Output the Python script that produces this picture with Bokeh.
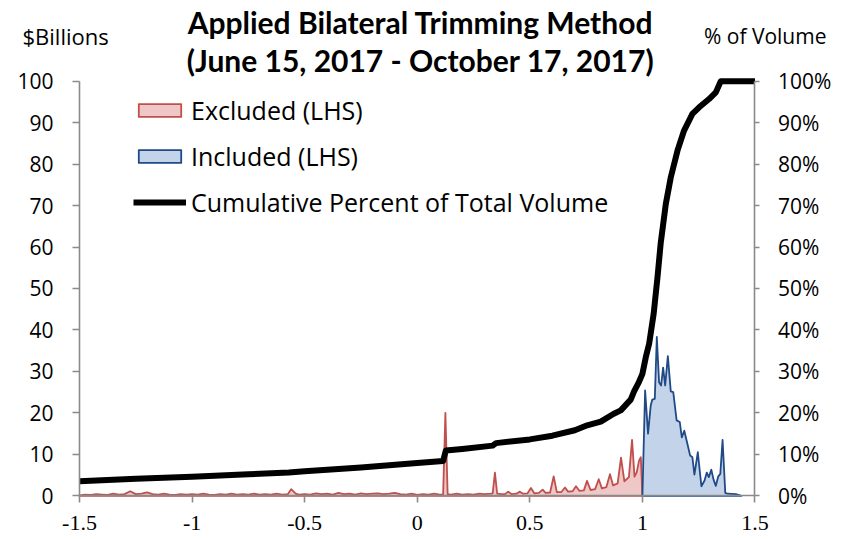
from bokeh.plotting import figure
from bokeh.models import (Range1d, LinearAxis, Legend, LegendItem, Label,
                          PrintfTickFormatter, FixedTicker, NumeralTickFormatter)
from bokeh.embed import file_html
from bokeh.resources import INLINE

# ---------------- data ----------------
excl_x = [-1.5, -1.475, -1.45, -1.425, -1.4, -1.375, -1.35, -1.325, -1.3, -1.275,
          -1.25, -1.225, -1.2, -1.175, -1.15, -1.125, -1.1, -1.075, -1.05, -1.025,
          -1.0, -0.975, -0.95, -0.925, -0.9, -0.875, -0.85, -0.825, -0.8, -0.775,
          -0.75, -0.725, -0.7, -0.675, -0.65, -0.625, -0.6, -0.575, -0.56, -0.54,
          -0.525, -0.5, -0.475, -0.45, -0.425, -0.4, -0.375, -0.35, -0.325, -0.3,
          -0.275, -0.25, -0.225, -0.2, -0.175, -0.15, -0.125, -0.1, -0.075, -0.05,
          -0.025, 0.0, 0.025, 0.05, 0.075, 0.1, 0.115, 0.125, 0.135, 0.15,
          0.175, 0.2, 0.225, 0.25, 0.275, 0.3, 0.325, 0.335, 0.345, 0.355,
          0.375, 0.39, 0.404, 0.42, 0.44, 0.456, 0.47, 0.49, 0.505, 0.52,
          0.54, 0.557, 0.57, 0.59, 0.606, 0.62, 0.64, 0.656, 0.67, 0.69,
          0.705, 0.72, 0.74, 0.754, 0.77, 0.79, 0.806, 0.82, 0.84, 0.856,
          0.87, 0.89, 0.905, 0.92, 0.94, 0.954, 0.965, 0.975, 0.985, 0.993, 1.0]
excl_y = [0.1, 0.3, 0.2, 0.4, 0.3, 0.2, 0.5, 0.3, 0.4, 1.1,
          0.4, 0.5, 0.8, 0.4, 0.3, 0.5, 0.3, 0.2, 0.4, 0.3,
          0.4, 0.3, 0.5, 0.3, 0.2, 0.4, 0.3, 0.5, 0.3, 0.4,
          0.3, 0.5, 0.3, 0.4, 0.3, 0.5, 0.3, 0.4, 1.6, 0.5,
          0.3, 0.4, 0.3, 0.6, 0.4, 0.5, 0.3, 0.7, 0.4, 0.5,
          0.3, 0.6, 0.4, 0.5, 0.6, 0.4, 0.5, 0.7, 0.4, 0.3,
          0.5, 0.2, 0.4, 0.3, 0.5, 0.3, 0.3, 20.0, 0.4, 0.3,
          0.5, 0.3, 0.4, 0.3, 0.5, 0.4, 0.5, 0.6, 5.6, 0.5,
          0.4, 0.4, 1.0, 0.4, 0.5, 1.0, 0.5, 0.6, 1.9, 0.6,
          0.7, 1.5, 0.7, 0.8, 4.7, 0.9, 0.9, 2.0, 1.0, 1.1,
          2.3, 1.2, 1.3, 3.6, 1.4, 1.6, 4.0, 1.8, 2.1, 5.2,
          2.5, 3.0, 9.2, 3.5, 4.5, 13.5, 4.6, 5.7, 8.5, 9.3, 0.0]

incl_x = [1.0, 1.012, 1.025, 1.037, 1.044, 1.055, 1.064, 1.074, 1.083, 1.092,
          1.101, 1.113, 1.126, 1.137, 1.152, 1.166, 1.175, 1.186, 1.2, 1.212,
          1.222, 1.231, 1.246, 1.262, 1.276, 1.286, 1.295, 1.306, 1.316, 1.326,
          1.337, 1.346, 1.356, 1.368, 1.378, 1.415, 1.44]
incl_y = [0.0, 25.4, 15.0, 21.8, 23.2, 23.4, 38.3, 27.4, 26.6, 30.9,
          26.6, 33.7, 25.2, 25.0, 18.2, 17.8, 14.1, 15.7, 12.5, 9.7,
          9.3, 5.1, 10.5, 2.3, 3.7, 5.6, 4.5, 6.3, 3.9, 2.4,
          4.7, 5.3, 13.5, 0.7, 0.5, 0.4, 0.0]

cum_x = [-1.5, -1.25, -1.0, -0.75, -0.57, -0.5, -0.25, 0.0, 0.115, 0.127,
         0.2, 0.335, 0.35, 0.5, 0.6, 0.7, 0.755, 0.815, 0.873, 0.904,
         0.948, 0.963, 0.985, 1.0, 1.015, 1.03, 1.05, 1.067, 1.081, 1.104,
         1.126, 1.156, 1.185, 1.222, 1.252, 1.296, 1.326, 1.348, 1.5]
cum_pct = [3.5, 4.1, 4.6, 5.2, 5.6, 5.9, 6.8, 7.9, 8.4, 10.9,
           11.3, 12.1, 12.7, 13.6, 14.5, 15.8, 17.0, 17.9, 19.8, 20.6,
           23.2, 25.2, 27.5, 29.4, 33.4, 36.7, 43.9, 52.7, 60.8, 70.4,
           76.8, 83.3, 88.1, 92.1, 93.7, 95.7, 97.3, 100.0, 100.0]

x_ticks = [-1.5, -1.0, -0.5, 0.0, 0.5, 1.0, 1.5]
y_ticks = [0, 10, 20, 30, 40, 50, 60, 70, 80, 90, 100]

title_lines = ["Applied Bilateral Trimming Method", "(June 15, 2017 - October 17, 2017)"]
left_label = "$Billions"
right_label = "% of Volume"
series_names = ["Excluded (LHS)", "Included (LHS)", "Cumulative Percent of Total Volume"]

# ---------------- styling ----------------
SANS = "Open Sans"
SERIF = "Liberation Serif"
AX = "#8a8a8a"
RED_LINE, RED_FILL = "#c0504d", "#efc7c6"
BLUE_LINE, BLUE_FILL = "#1f4a86", "#c3d4ea"

# the frame covers the whole canvas; the axes sit at fixed data locations
p = figure(width=853, height=539,
           x_range=Range1d(-1.8508, 1.9375), y_range=Range1d(-10.541, 119.464),
           x_axis_location=None, y_axis_location=None,
           output_backend="svg", toolbar_location=None, min_border=0)
p.extra_y_ranges = {"pct": Range1d(-10.541, 119.464)}
p.grid.visible = False
p.outline_line_color = None
p.background_fill_color = "white"

# areas closed down to zero (the base edge lies under the x axis)
ex_px = [excl_x[0]] + excl_x + [excl_x[-1]]
ex_py = [0.0] + excl_y + [0.0]
in_px = [incl_x[0]] + incl_x + [incl_x[-1]]
in_py = [0.0] + incl_y + [0.0]
r_ex = p.patch(ex_px, ex_py, fill_color=RED_FILL, line_color=RED_LINE, line_width=1.8,
               line_join="round")
r_in = p.patch(in_px, in_py, fill_color=BLUE_FILL, line_color=BLUE_LINE, line_width=1.8,
               line_join="round")
r_cum = p.line(cum_x, cum_pct, y_range_name="pct", line_color="black", line_width=6,
               line_join="round")

# axes
xa = LinearAxis(fixed_location=0, bounds=(-1.5, 1.5), ticker=FixedTicker(ticks=x_ticks),
                formatter=NumeralTickFormatter(format="0.[0]"))
ya = LinearAxis(fixed_location=-1.5, bounds=(0, 100), ticker=FixedTicker(ticks=y_ticks))
ra = LinearAxis(fixed_location=1.5, bounds=(0, 100), y_range_name="pct",
                ticker=FixedTicker(ticks=y_ticks), formatter=PrintfTickFormatter(format="%d%%"))
p.add_layout(xa, "below")
p.add_layout(ya, "left")
p.add_layout(ra, "right")

for ax in (xa, ya, ra):
    ax.axis_line_color = AX
    ax.axis_line_width = 1.6
    ax.major_tick_line_color = AX
    ax.major_tick_line_width = 1.6
    ax.minor_tick_line_color = None
    ax.major_tick_in = 0
    ax.major_label_text_color = "black"
xa.major_tick_out = 7
xa.major_label_standoff = 13
xa.major_label_text_font = SERIF
xa.major_label_text_font_size = "22px"
ya.major_tick_out = 7
ya.major_label_standoff = 19
ya.major_label_text_font = SANS
ya.major_label_text_font_size = "21px"
ra.major_tick_out = 5
ra.major_label_standoff = 18
ra.major_label_text_font = SANS
ra.major_label_text_font_size = "21px"

# titles / axis captions
p.add_layout(Label(x=0.0144, y=114.3, text=title_lines[0], text_align="center",
                   text_baseline="alphabetic", text_font="Lato", text_font_style="bold",
                   text_font_size="30px", text_color="black"))
p.add_layout(Label(x=0.0144, y=105.1, text=title_lines[1], text_align="center",
                   text_baseline="alphabetic", text_font="Lato", text_font_style="bold",
                   text_font_size="30px", text_color="black"))
p.add_layout(Label(x=-1.7531, y=110.8, text=left_label, text_align="left",
                   text_baseline="alphabetic", text_font=SANS, text_font_size="22px",
                   text_color="black"))
p.add_layout(Label(x=1.8175, y=110.8, text=right_label, text_align="right",
                   text_baseline="alphabetic", text_font=SANS, text_font_size="21px",
                   text_color="black"))

legend = Legend(items=[LegendItem(label=series_names[0], renderers=[r_ex]),
                       LegendItem(label=series_names[1], renderers=[r_in]),
                       LegendItem(label=series_names[2], renderers=[r_cum])],
                location=(133, 320), orientation="vertical", glyph_width=53, glyph_height=16,
                label_standoff=5, spacing=12, padding=0, margin=0,
                border_line_color=None, background_fill_alpha=0,
                label_text_font=SANS, label_text_font_size="25px", label_text_color="black")
p.add_layout(legend, "center")

open("out.html", "w").write(file_html(p, INLINE))
